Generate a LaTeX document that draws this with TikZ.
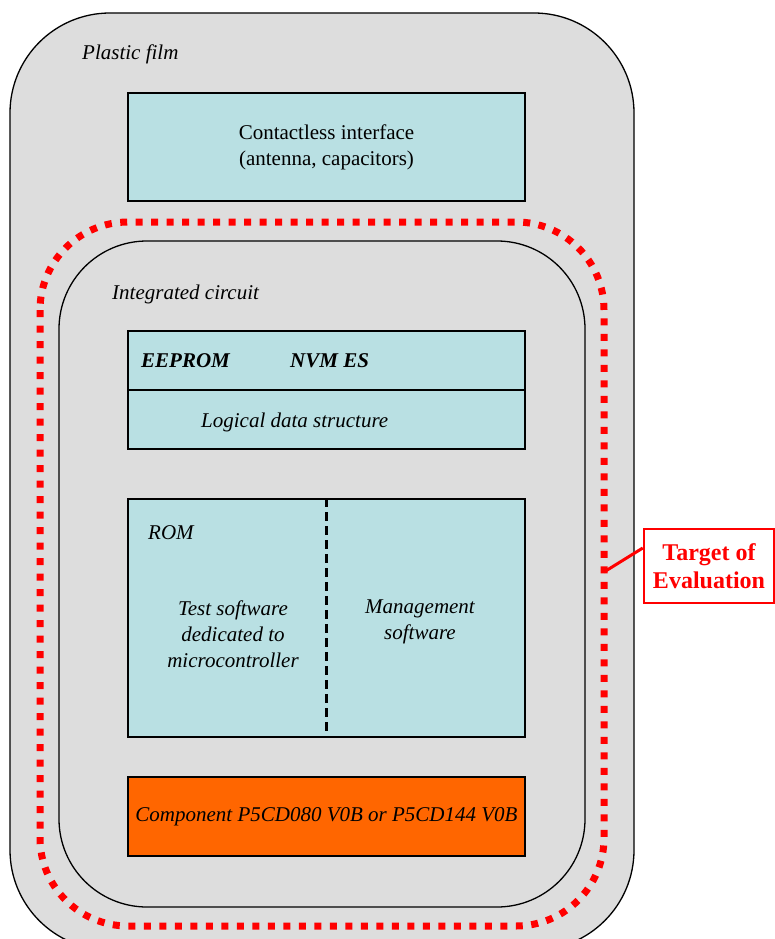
\documentclass[tikz,border=0pt]{standalone}
\usepackage{fontspec}
\setmainfont{Liberation Serif}
\definecolor{filmgray}{HTML}{DDDDDD}
\definecolor{boxcyan}{HTML}{B9E0E3}
\definecolor{chiporange}{HTML}{FF6600}
\definecolor{toered}{HTML}{FF0000}
\begin{document}
\begin{tikzpicture}[x=1pt,y=-1pt,
  txt/.style={font=\fontsize{21}{26}\selectfont, inner sep=0pt},
  membox/.style={draw=black, line width=1.4pt, fill=boxcyan, minimum width=397pt, inner sep=0pt, align=center, font=\fontsize{21}{26}\selectfont},
  toedots/.style={draw=toered, line width=7pt, dash pattern=on 7pt off 8.5pt},
]
\useasboundingbox (0,0) rectangle (775,939);
\clip (0,0) rectangle (775,939);
% plastic film
\draw[fill=filmgray, line width=1.3pt, rounded corners=100pt] (10,13) rectangle (634,950);
\node[txt, anchor=base west] (film) at (82,60) {\itshape Plastic film};
% contactless interface
\node[membox, minimum height=108pt] (cl) at (326.5,147) {Contactless interface\\(antenna, capacitors)};
% TOE dotted boundary
\draw[toedots, rounded corners=88pt] (40,222) rectangle (604,926);
% integrated circuit
\draw[fill=filmgray, line width=1.3pt, rounded corners=88pt] (59,241) rectangle (585,907);
\node[txt, anchor=base west] (ic) at (112,299) {\itshape Integrated circuit};
% EEPROM
\node[membox, minimum height=118pt] (eeprom) at (326.5,390) {};
\draw[line width=1.3pt] (eeprom.west |- 0,390) -- (eeprom.east |- 0,390);
\node[txt, anchor=base west] (eep) at (141,367) {\bfseries\itshape EEPROM};
\node[txt, anchor=base west] (nvm) at (290,367) {\bfseries\itshape NVM ES};
\node[txt, anchor=base west] (lds) at (201,427) {\itshape Logical data structure};
% ROM
\node[membox, minimum height=238pt] (rom) at (326.5,618) {};
\draw[line width=3.5pt, dash pattern=on 9pt off 5pt] (rom.north) -- (rom.south);
\node[txt, anchor=base west] (romlbl) at (148,539) {\itshape ROM};
\node[txt, align=center] (test) at (233,634) {\itshape Test software\\\itshape dedicated to\\\itshape microcontroller};
\node[txt, align=center] (mgmt) at (420,622) {\itshape Management\\\itshape software};
% component
\node[membox, fill=chiporange, minimum height=79pt] (comp) at (326.5,816.5) {\itshape Component P5CD080 V0B or P5CD144 V0B};
% TOE label
\node[draw=toered, line width=2.5pt, fill=white, text=toered, minimum width=130pt, minimum height=74pt, align=center, inner sep=0pt, font=\fontsize{24}{28}\selectfont\bfseries] (toe) at (709,566) {Target of\\Evaluation};
\coordinate (toeEnd) at (604,572);
\draw[toered, line width=3pt] ([yshift=18pt]toe.west) -- (toeEnd);
\end{tikzpicture}
\end{document}
